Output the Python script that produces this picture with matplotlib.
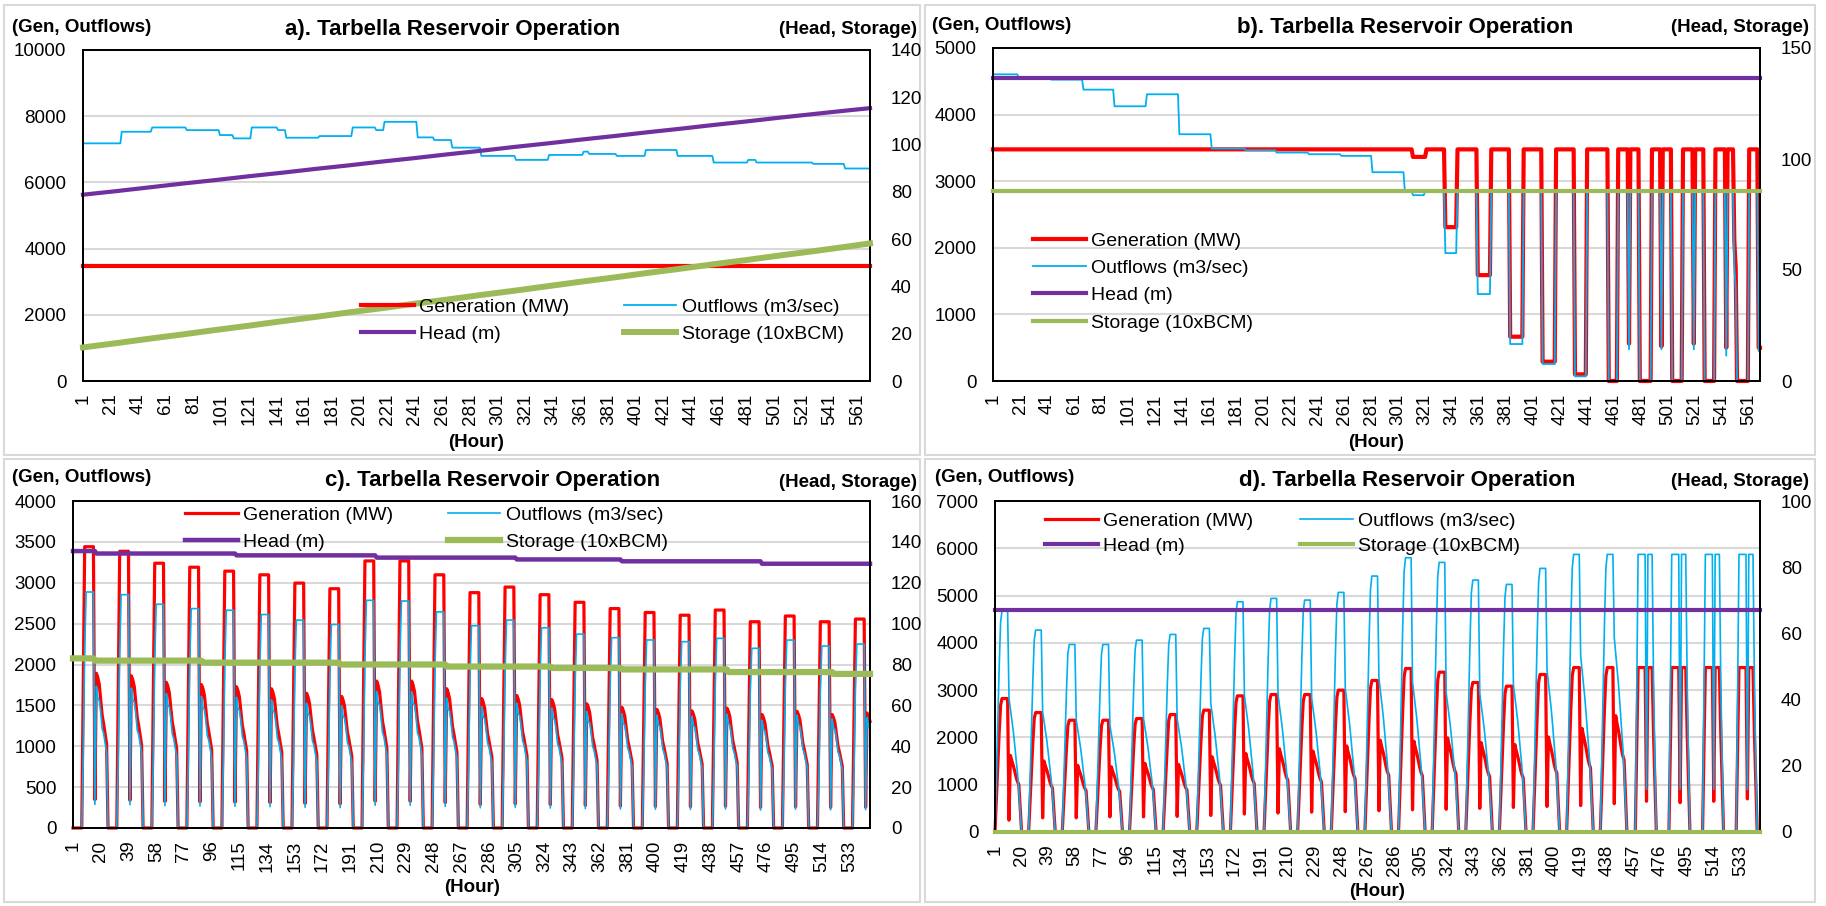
import numpy as np
import matplotlib
matplotlib.use("Agg")
import matplotlib.pyplot as plt
from matplotlib.patches import Rectangle
from matplotlib.transforms import Bbox, TransformedBbox

plt.rcParams['font.family'] = ['Liberation Sans', 'DejaVu Sans']

W, H = 1826, 906
RED, BLUE, PURPLE, GREEN = '#FF0000', '#00B0F0', '#7030A0', '#9BBB59'
GRID = '#D9D9D9'

TITLE = 'Tarbella Reservoir Operation'
LABELS = ['Generation (MW)', 'Outflows (m3/sec)', 'Head (m)', 'Storage (10xBCM)']

# ---------------- a) filling at full generation ----------------
a_hours = 570
a_generation = 3478
a_out_start = [1, 29, 51, 76, 100, 110, 123, 142, 148, 172, 196, 213, 219, 243, 255,
               268, 289, 314, 338, 363, 367, 387, 408, 431, 457, 482, 488, 529, 552]
a_out_level = [7180, 7530, 7660, 7580, 7430, 7330, 7660, 7580, 7350, 7400, 7660, 7580, 7830, 7360, 7280,
               7050, 6800, 6680, 6830, 6930, 6860, 6800, 6980, 6800, 6600, 6680, 6600, 6560, 6420]
# head and storage read at the start of every day plus the last hour
a_level_hours = [1, 25, 49, 73, 97, 121, 145, 169, 193, 217, 241, 265, 289,
                 313, 337, 361, 385, 409, 433, 457, 481, 505, 529, 553, 570]
a_head = [78.8, 80.3, 81.9, 83.5, 85.0, 86.6, 88.1, 89.7, 91.2, 92.8, 94.3, 95.9, 97.4,
          99.0, 100.5, 102.1, 103.6, 105.2, 106.7, 108.3, 109.8, 111.4, 112.9, 114.4, 115.4]
a_storage = [14.2, 16.0, 17.9, 19.7, 21.6, 23.4, 25.3, 27.1, 29.0, 30.8, 32.7, 34.5, 36.4,
             38.2, 40.1, 42.0, 43.8, 45.7, 47.5, 49.4, 51.2, 53.1, 54.9, 56.8, 58.2]

# ---------------- b) full reservoir ----------------
b_hours = 569
b_head = 136.6
b_storage = 85.5
b_gen_start = [1, 312, 322, 336, 345, 360, 370, 384, 394, 408, 418, 432, 441, 457, 464, 472, 473,
               480, 489, 496, 497, 504, 512, 520, 521, 528, 536, 544, 545, 550, 551, 552, 561, 568]
b_gen_level = [3478, 3365, 3478, 2310, 3478, 1590, 3478, 665, 3478, 290, 3478, 100, 3478, 0, 3478, 560, 3478,
               0, 3478, 520, 3478, 0, 3478, 560, 3478, 0, 3478, 500, 3478, 2100, 1700, 0, 3478, 500]
b_out_start = [1, 20, 44, 68, 91, 115, 139, 163, 188, 211, 235, 259, 282, 306, 312, 321,
               336, 345, 360, 370, 384, 394, 408, 418, 432, 441, 457, 464, 472, 473,
               480, 489, 496, 497, 504, 512, 520, 521, 528, 536, 544, 545, 550, 551, 552, 561, 568]
b_out_level = [4605, 4550, 4525, 4375, 4125, 4305, 3705, 3490, 3465, 3430, 3405, 3380, 3135, 2850, 2790, 2850,
               1920, 2850, 1305, 2850, 555, 2850, 255, 2850, 70, 2850, 0, 2850, 475, 2850,
               0, 2850, 475, 2850, 0, 2850, 475, 2850, 0, 2850, 380, 2850, 1700, 1400, 0, 2850, 450]

# ---------------- c) drawdown with daily peaking ----------------
c_hours = 547
c_gen_peak = [3441, 3385, 3239, 3190, 3142, 3097, 2996, 2927, 3267, 3267, 3097, 2879,
              2947, 2854, 2761, 2684, 2636, 2603, 2666, 2523, 2593, 2523, 2556]
c_out_peak = [2887, 2854, 2737, 2684, 2664, 2611, 2543, 2490, 2785, 2777, 2644, 2474,
              2543, 2449, 2372, 2328, 2300, 2279, 2320, 2198, 2299, 2226, 2250]
c_gen_shape = [0, 0, 0, 0, 0, 0, 0, 0.5, 1, 1, 1, 1, 1, 1, 1, 0.1,
               0.55, 0.535, 0.51, 0.455, 0.40, 0.37, 0.335, 0.30]
c_out_shape = [0, 0, 0, 0, 0, 0, 0, 0.3, 0.75, 1, 1, 1, 1, 1, 1, 0.1,
               0.60, 0.55, 0.54, 0.49, 0.42, 0.40, 0.36, 0.32]
c_head_start = [1, 17, 113, 209, 305, 377, 473]
c_head_level = [135.5, 134.3, 133.4, 132.3, 131.4, 130.5, 129.3]
c_stor_start = [1, 16, 90, 184, 257, 329, 377, 450, 522]
c_stor_level = [83.0, 81.9, 80.9, 80.0, 79.0, 78.3, 77.6, 76.3, 75.4]

# ---------------- d) empty reservoir with daily peaking ----------------
d_hours = 547
d_head = 67.2
d_storage = 0.0
d_gen_peak = [2823, 2526, 2364, 2364, 2399, 2484, 2576, 2879, 2907, 2907, 2999, 3204,
              3458, 3380, 3162, 3084, 3331, 3478, 3478, 3478, 3478, 3478, 3478]
d_gen_dip = [250, 300, 300, 320, 320, 330, 350, 380, 400, 420, 430, 450,
             470, 480, 500, 520, 540, 560, 600, 650, 620, 650, 700]
d_gen_hump = [1620, 1500, 1410, 1380, 1450, 1430, 1590, 1660, 1760, 1710, 1820, 1940,
              1920, 1990, 1890, 1850, 2010, 2190, 2460, 3478, 3478, 3478, 3478]
d_out_peak = [4672, 4270, 3966, 3966, 4058, 4178, 4305, 4869, 4940, 4905, 5067, 5413,
              5800, 5702, 5328, 5236, 5575, 5871, 5871, 5871, 5871, 5871, 5871]
d_out_dip = [2823, 2540, 2364, 2258, 2399, 2399, 2717, 2893, 2907, 2837, 3034, 3260,
             3175, 2950, 2928, 3119, 3422, 3726, 4107, 900, 900, 900, 900]
d_out_hump = [2823, 2540, 2364, 2258, 2399, 2399, 2717, 2893, 2907, 2837, 3034, 3260,
              3175, 2950, 2928, 3119, 3422, 3726, 4107, 5871, 5871, 5871, 5871]
d_day_kind = ['early'] * 19 + ['late'] * 4

# hourly weights of the peak / dip / hump levels within one day
d_weights = {
    'early': {
        'peak': [0, .25, .5, .75, .95, 1, 1, 1, 1, 1] + [0] * 14,
        'dip': [0] * 10 + [1] + [0] * 13,
        'gen_hump': [0] * 11 + [1, .93, .87, .8, .72, .66, .62, .3] + [0] * 5,
        'out_hump': [0] * 11 + [.92, .84, .76, .66, .55, .45, .32, .15] + [0] * 5,
    },
    'late': {
        'peak': [0, 0, .5, 1, 1, 1, 1, 1, 1] + [0] * 15,
        'dip': [0] * 9 + [1] + [0] * 14,
        'gen_hump': [0] * 10 + [1, 1, 1, 1, .6, .3] + [0] * 8,
        'out_hump': [0] * 10 + [1, 1, 1, 1, .55, .25] + [0] * 8,
    },
}


def steps(starts, levels, n):
    h = np.arange(1, n + 1)
    idx = np.searchsorted(starts, h, side='right') - 1
    return np.asarray(levels, float)[idx]


def cycles(peaks, shape, n):
    return np.outer(peaks, shape).ravel()[:n]


def peaking(peak, dip, hump, kinds, hump_key, n):
    rows = []
    for p, d, hu, k in zip(peak, dip, hump, kinds):
        w = d_weights[k]
        rows.append(p * np.array(w['peak']) + d * np.array(w['dip']) + hu * np.array(w[hump_key]))
    return np.concatenate(rows)[:n]


fig = plt.figure(figsize=(W / 100, H / 100), dpi=100)
fig.patch.set_facecolor('white')

# chart-area borders
for (l, t, r, b) in [(4, 5, 920, 455), (925, 5, 1815, 455), (4, 459, 920, 902), (925, 459, 1815, 902)]:
    fig.add_artist(Rectangle((l / W, 1 - b / H), (r - l) / W, (b - t) / H, transform=fig.transFigure,
                             fill=False, ec='#D9D9D9', lw=1.5, zorder=0))


def ftext(x, y, s, **kw):
    return fig.text(x / W, 1 - y / H, s, **kw)


def panel(box, n, xticks, series, widths, lim, ticks, lim2, ticks2):
    l, t, r, b = box
    ax = fig.add_axes([l / W, 1 - b / H, (r - l) / W, (b - t) / H])
    ax2 = ax.twinx()
    x = np.arange(1, n + 1)
    (gx, gen), (ox, out), (hx, head), (sx, stor) = series
    h_gen, = ax.plot(x if gx is None else gx, gen, color=RED, lw=widths[0], clip_on=False)
    h_out, = ax.plot(x if ox is None else ox, out, color=BLUE, lw=widths[1], clip_on=False)
    h_head, = ax2.plot(x if hx is None else hx, head, color=PURPLE, lw=widths[2], clip_on=False)
    h_stor, = ax2.plot(x if sx is None else sx, stor, color=GREEN, lw=widths[3], clip_on=False, zorder=3)
    ax.set_xlim(1, n)
    ax.set_xticks(xticks)
    ax.set_xticklabels([str(v) for v in xticks], rotation=90)
    ax.set_ylim(lim)
    ax.set_yticks(ticks)
    ax2.set_ylim(lim2)
    ax2.set_yticks(ticks2)
    ax.grid(axis='y', color=GRID, lw=1.5)
    ax.set_axisbelow(True)
    ax.tick_params(length=0, labelsize=13.5)
    ax.tick_params(axis='y', pad=12)
    ax.tick_params(axis='x', pad=9)
    ax2.tick_params(length=0, labelsize=13.5, pad=15)
    for a_ in (ax, ax2):
        for s in a_.spines.values():
            s.set_linewidth(1.3)
            s.set_color('black')
    return ax, ax2, [h_gen, h_out, h_head, h_stor]


def legend(ax2, handles, x, y, ncol, colspace, spacing=0.5):
    order = [0, 2, 1, 3] if ncol == 2 else [0, 1, 2, 3]
    leg = ax2.legend([handles[i] for i in order], [LABELS[i] for i in order], loc='upper left',
                     bbox_to_anchor=(x / W, 1 - y / H), bbox_transform=fig.transFigure, ncol=ncol,
                     frameon=False, fontsize=14, handlelength=2.7, handletextpad=0.3,
                     columnspacing=colspace, labelspacing=spacing, borderpad=0, borderaxespad=0)
    leg.set_zorder(5)


def headings(letter, title_xy, gen_xy, head_xy, hour_xy):
    ftext(*title_xy, f'{letter}). {TITLE}', ha='center', va='center', fontsize=16, fontweight='bold')
    ftext(*gen_xy, '(Gen, Outflows)', ha='left', va='center', fontsize=13.5, fontweight='bold')
    ftext(*head_xy, '(Head, Storage)', ha='right', va='center', fontsize=13.5, fontweight='bold')
    ftext(*hour_xy, '(Hour)', ha='center', va='center', fontsize=13.5, fontweight='bold')


# a)
series_a = ((None, np.full(a_hours, a_generation, float)),
            (None, steps(a_out_start, a_out_level, a_hours)),
            (a_level_hours, a_head), (a_level_hours, a_storage))
ax, ax2, hs = panel((83, 50, 870, 381), a_hours, list(range(1, a_hours + 1, 20)), series_a,
                    (3.0, 1.3, 3.0, 4.3), (0, 10000), range(0, 10001, 2000), (0, 140), range(0, 141, 20))
clip = TransformedBbox(Bbox([[0, 0], [921 / W, 1]]), fig.transFigure)
for lbl in ax2.get_yticklabels():
    lbl.set_clip_box(clip)
    lbl.set_clip_on(True)
legend(ax2, hs, 361, 298, 2, 2.8)
headings('a', (453, 29), (12, 27), (917, 30), (476, 442))

# b)
series_b = ((None, steps(b_gen_start, b_gen_level, b_hours)),
            (None, steps(b_out_start, b_out_level, b_hours)),
            (None, np.full(b_hours, b_head)), (None, np.full(b_hours, b_storage)))
ax, ax2, hs = panel((993, 48, 1760, 381), b_hours, list(range(1, b_hours + 1, 20)), series_b,
                    (3.0, 1.3, 3.0, 3.0), (0, 5000), range(0, 5001, 1000), (0, 150), range(0, 151, 50))
legend(ax2, hs, 1033, 232, 1, 2.0)
headings('b', (1405, 27), (932, 25), (1809, 28), (1376, 442))

# c)
series_c = ((None, cycles(c_gen_peak, c_gen_shape, c_hours)),
            (None, cycles(c_out_peak, c_out_shape, c_hours)),
            (None, steps(c_head_start, c_head_level, c_hours)),
            (None, steps(c_stor_start, c_stor_level, c_hours)))
ax, ax2, hs = panel((73, 501, 870, 828), c_hours, list(range(1, c_hours + 1, 19)), series_c,
                    (2.3, 1.2, 3.2, 4.5), (0, 4000), range(0, 4001, 500), (0, 160), range(0, 161, 20))
legend(ax2, hs, 185, 506, 2, 2.8)
headings('c', (493, 480), (12, 478), (917, 482), (472, 888))

# d)
series_d = ((None, peaking(d_gen_peak, d_gen_dip, d_gen_hump, d_day_kind, 'gen_hump', d_hours)),
            (None, peaking(d_out_peak, d_out_dip, d_out_hump, d_day_kind, 'out_hump', d_hours)),
            (None, np.full(d_hours, d_head)), (None, np.full(d_hours, d_storage)))
ax, ax2, hs = panel((995, 501, 1760, 832), d_hours, list(range(1, d_hours + 1, 19)), series_d,
                    (2.3, 1.2, 3.0, 3.0), (0, 7000), range(0, 7001, 1000), (0, 100), range(0, 101, 20))
legend(ax2, hs, 1045, 512, 2, 2.4, spacing=0.4)
headings('d', (1407, 480), (935, 478), (1809, 481), (1377, 892))

fig.savefig('out.png', dpi=100)
